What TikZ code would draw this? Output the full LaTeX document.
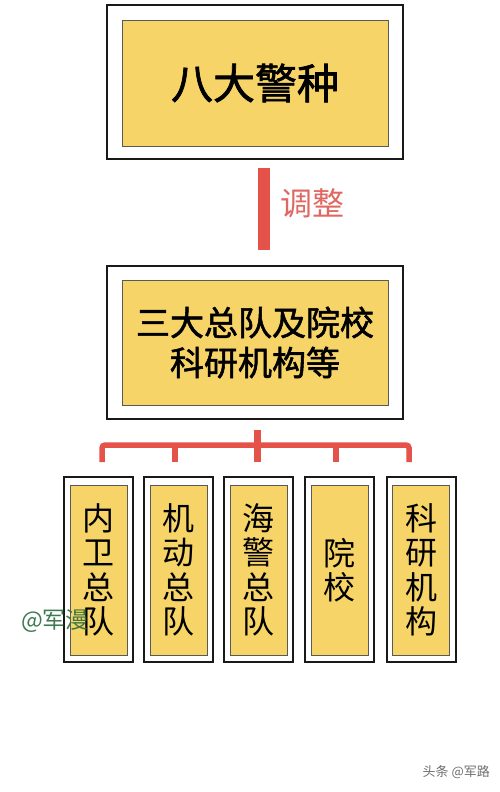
\documentclass[tikz,border=0pt]{standalone}
\usepackage{fontspec}
\usepackage{xcolor}
\newfontfamily\cjk{Noto Sans CJK SC}
\newfontfamily\cjkbold[FakeBold=1.6]{Noto Sans CJK SC}
\usetikzlibrary{positioning}
\definecolor{boxyellow}{RGB}{246,212,104}
\definecolor{linered}{RGB}{228,82,74}
\definecolor{labelred}{RGB}{224,104,98}
\definecolor{markgreen}{RGB}{42,108,62}
\definecolor{markgray}{RGB}{110,110,110}

\tikzset{
  outerbox/.style={draw=black!90, line width=2.6pt, fill=white, inner sep=0pt},
  innerbox/.style={draw=black!65, line width=0.8pt, fill=boxyellow, inner sep=0pt, align=center},
  unitbox/.style={innerbox, minimum width=57pt, minimum height=170pt,
    font={\cjk\fontsize{32}{34.5}\selectfont}},
  unitframe/.style={outerbox, line width=2pt, minimum width=69pt, minimum height=185pt},
  redline/.style={draw=linered, line width=5.5pt},
}

\begin{document}
\begin{tikzpicture}[x=1pt,y=-1pt]
\useasboundingbox (0,0) rectangle (500,792);
\fill[white] (0,0) rectangle (500,792);

% top level
\node[outerbox, minimum width=296pt, minimum height=154pt] (topframe) at (255,82) {};
\node[innerbox, minimum width=266pt, minimum height=126pt,
  font={\cjkbold\fontsize{42}{46}\selectfont}] (police) at (255,83) {八大警种};

% adjustment bar
\coordinate (adjT) at (264,168);
\coordinate (adjB) at (264,250);
\draw[draw=linered, line width=12pt] (adjT) -- (adjB);
\node[anchor=west, text=labelred, font={\cjk\fontsize{32}{34}\selectfont}, inner sep=0pt]
  (adjust) at (280,203) {调整};

% middle level
\node[outerbox, minimum width=296pt, minimum height=153pt] (midframe) at (255,342.5) {};
\node[innerbox, minimum width=266pt, minimum height=125pt,
  font={\cjkbold\fontsize{34}{40}\selectfont}] (corps) at (255,342.5)
  {三大总队及院校\\科研机构等};

% bottom units
\foreach \name/\cx/\txt in {neiwei/98.5/内\\卫\\总\\队, jidong/178.5/机\\动\\总\\队,
    haijing/258.5/海\\警\\总\\队, yuanxiao/339.5/院\\校, keyan/421/科\\研\\机\\构} {
  \node[unitframe] (\name frame) at (\cx,569.5) {};
  \node[unitbox] (\name) at (\cx,570) {\txt};
}

% bracket
\coordinate (hub) at (257,430);
\coordinate (barL) at (102,445);
\coordinate (barR) at (409,445);
\coordinate (t1) at (102,462);
\coordinate (t2) at (175,462);
\coordinate (t3) at (257,462);
\coordinate (t4) at (336,462);
\coordinate (t5) at (409,462);
\draw[redline, rounded corners=3pt] (t1) -- (barL) -- (barR) -- (t5);
\foreach \t in {t2,t4} \draw[redline] (\t) -- (\t |- barL);
\draw[redline, line width=7pt] (hub) -- (t3);

% watermarks
\node[anchor=west, inner sep=0pt, text=markgreen, opacity=0.9,
  font={\cjk\fontsize{23}{24}\selectfont}] (markA) at (21,621) {@军漫};
\node[anchor=east, inner sep=0pt, text=markgray,
  font={\cjk\fontsize{13}{14}\selectfont}] (markB) at (490,772) {头条 @军路};
\end{tikzpicture}
\end{document}
